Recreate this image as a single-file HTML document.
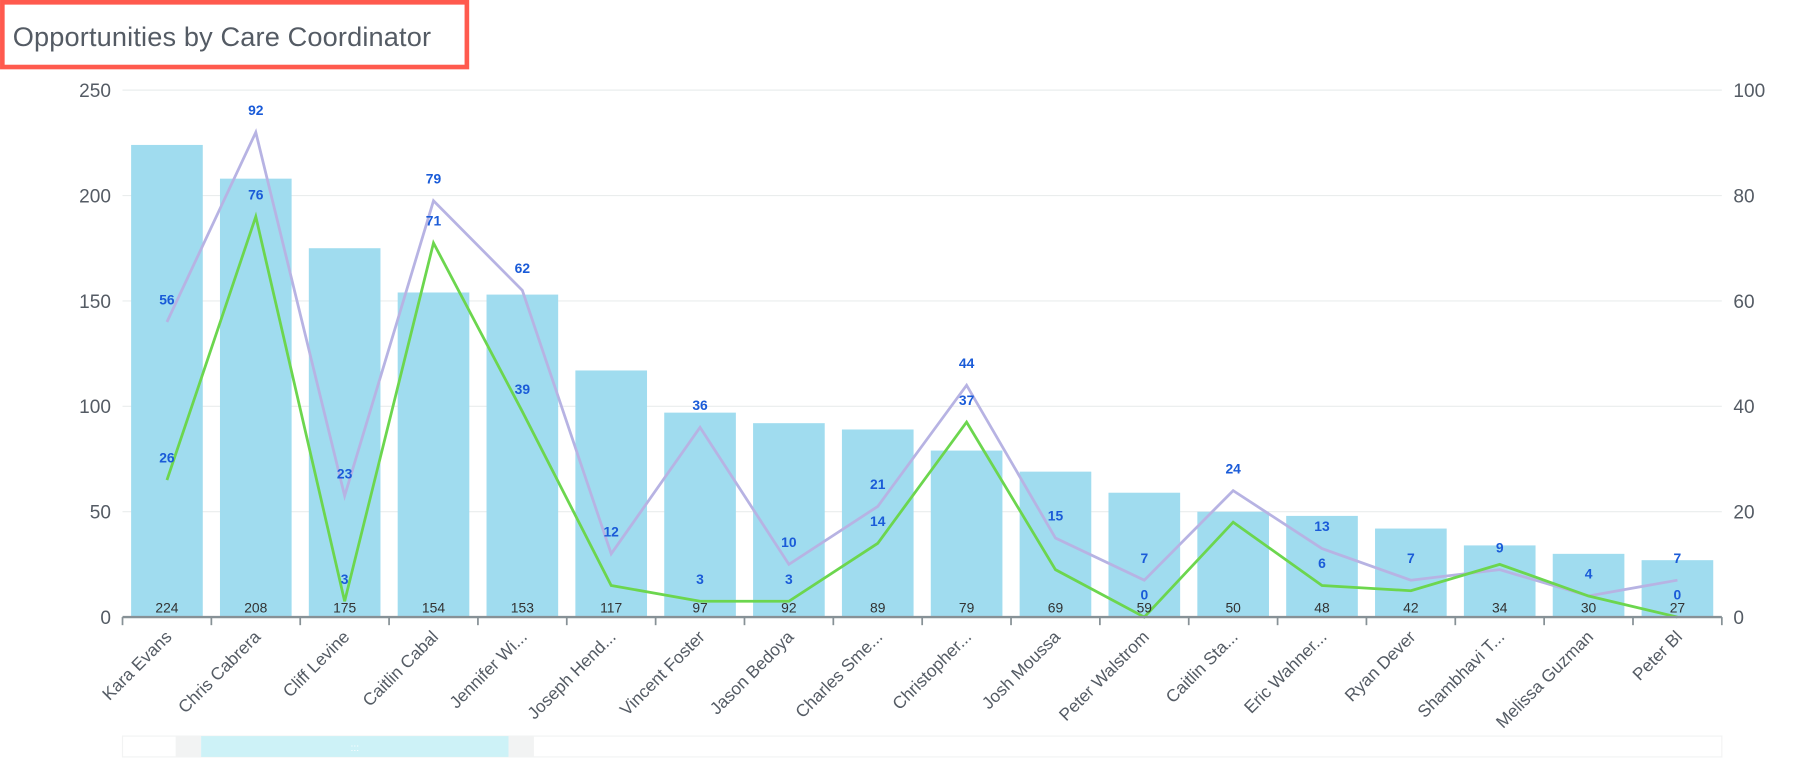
<!DOCTYPE html>
<html><head><meta charset="utf-8"><style>
html,body{margin:0;padding:0;background:#fff;}
svg{display:block;font-family:"Liberation Sans",sans-serif;}
</style></head><body>
<svg id="chart" width="1812" height="768" viewBox="0 0 1568 664.6" xmlns="http://www.w3.org/2000/svg">
<rect x="2" y="2" width="402" height="56" fill="#fff" stroke="#ff5a4e" stroke-width="4"/>
<text x="11" y="40" font-size="23.5" fill="#545b64" textLength="362">Opportunities by Care Coordinator</text>
<g id="grid"></g><g id="bars"></g><g id="lines"></g><g id="labels"></g><g id="axes"></g>
<g>
<rect x="106" y="637" width="1384" height="18" fill="#fff" stroke="#f2f3f3"/>
<rect x="152" y="637" width="22" height="18" fill="#f2f3f3"/>
<rect x="174" y="637" width="266" height="18" fill="#cdf2f7"/>
<rect x="440" y="637" width="22" height="18" fill="#f2f3f3"/>
<text x="307" y="650" font-size="9" fill="#fff" text-anchor="middle">:::</text>
</g>
</svg>
<script>
const categories=["Kara Evans","Chris Cabrera","Cliff Levine","Caitlin Cabal","Jennifer Wi...","Joseph Hend...","Vincent Foster","Jason Bedoya","Charles Sme...","Christopher...","Josh Moussa","Peter Walstrom","Caitlin Sta...","Eric Wahner...","Ryan Dever","Shambhavi T...","Melissa Guzman","Peter Bl"];
const barValues=[224,208,175,154,153,117,97,92,89,79,69,59,50,48,42,34,30,27];
const purpleValues=[56,92,23,79,62,12,36,10,21,44,15,7,24,13,7,9,4,7];
const greenValues=[26,76,3,71,39,6,3,3,14,37,9,0,18,6,5,10,4,0];
const greenLabelShown=[1,1,1,1,1,0,1,1,1,1,0,1,0,1,0,0,0,1];
const leftTicks=[0,50,100,150,200,250];
const rightTicks=[0,20,40,60,80,100];

const NS="http://www.w3.org/2000/svg";
const X0=106,X1=1490,Y0=534,Y1=78;
const band=(X1-X0)/categories.length;
const xc=i=>X0+band*(i+0.5);
const yL=v=>Y0-(v/250)*(Y0-Y1);
const yR=v=>Y0-(v/100)*(Y0-Y1);
function mk(tag,attrs,parent,txt){const e=document.createElementNS(NS,tag);for(const k in attrs)e.setAttribute(k,attrs[k]);if(txt!==undefined)e.textContent=txt;document.getElementById(parent).appendChild(e);return e;}

leftTicks.forEach((t,i)=>{
  if(t>0){const g=mk('line',{x1:X0,x2:X1,y1:yL(t),y2:yL(t),stroke:'#eaeded','stroke-width':1},'grid');
  
  }
  const l=mk('text',{x:96,y:yL(t)+6,'font-size':16.5,fill:'#545b64','text-anchor':'end'},'axes',t);
  
  
});
rightTicks.forEach(t=>{
  const l=mk('text',{x:1500,y:yR(t)+6,'font-size':16.5,fill:'#545b64'},'axes',t);
  
  
});
barValues.forEach((v,i)=>{
  const b=mk('rect',{x:xc(i)-31,y:yL(v),width:62,height:Y0-yL(v),fill:'#a0dcef'},'bars');
  
  
  const t=mk('text',{x:xc(i),y:Y0-4,'font-size':12,fill:'#333','text-anchor':'middle'},'labels',v);
  
  
});
function line(vals,color,name,shown){
  const pts=vals.map((v,i)=>xc(i)+','+yR(v)).join(' ');
  const p=mk('polyline',{points:pts,fill:'none',stroke:color,'stroke-width':2.4},'lines');
  
  
  vals.forEach((v,i)=>{
    if(shown && !shown[i]) return;
    const t=mk('text',{x:xc(i),y:yR(v)-15,'font-size':12,'font-weight':'bold',fill:'#1a5bd8','text-anchor':'middle'},'labels',v);
    
    
  });
}
line(purpleValues,'#b7b3e3','purple-line',null);
line(greenValues,'#6cd64e','green-line',greenLabelShown);
const ax=mk('line',{x1:X0,x2:X1,y1:Y0,y2:Y0,stroke:'#879196','stroke-width':2},'axes');


for(let i=0;i<=categories.length;i++){
  const tk=mk('line',{x1:X0+band*i,x2:X0+band*i,y1:Y0,y2:Y0+7,stroke:'#879196','stroke-width':1.5},'axes');
  
  
}
categories.forEach((c,i)=>{
  const x=xc(i)+5,y=Y0+18;
  const t=mk('text',{x:x,y:y,'font-size':15,fill:'#545b64','text-anchor':'end',transform:`rotate(-45 ${x} ${y})`},'axes',c);
  
  
});
</script>
</body></html>
